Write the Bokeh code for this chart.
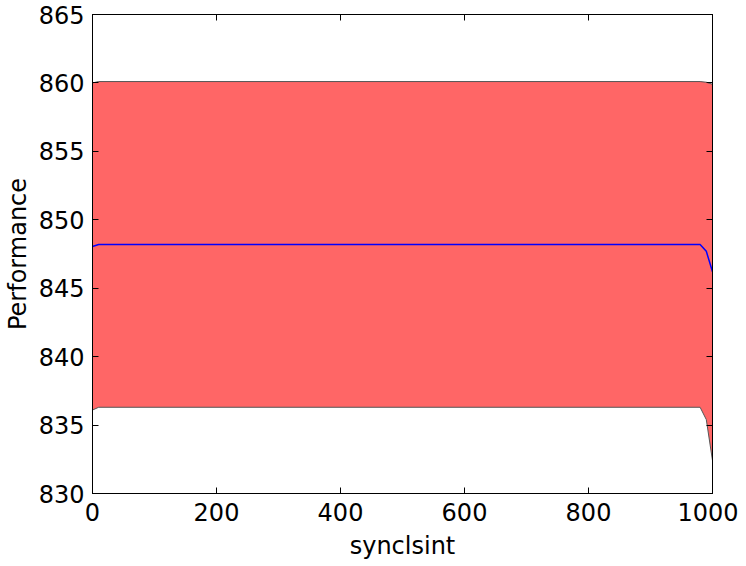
from bokeh.plotting import figure
from bokeh.models import LinearAxis, FixedTicker, Range1d, CustomJSTickFormatter
from bokeh.embed import file_html
from bokeh.resources import INLINE

# data
synclsint = [0, 10, 980, 990, 1000]
perf_upper = [860.0, 860.1, 860.1, 860.05, 859.9]
perf_mean = [848.05, 848.2, 848.2, 847.7, 846.2]
perf_lower = [836.1, 836.3, 836.3, 835.4, 832.4]
x_ticks = [0, 200, 400, 600, 800, 1000]
y_ticks = [830, 835, 840, 845, 850, 855, 860, 865]

FONT = "DejaVu Sans"
FS = "24px"

p = figure(frame_width=620, frame_height=479, output_backend="svg",
           toolbar_location=None, x_range=Range1d(0, 1000), y_range=Range1d(830, 865),
           min_border_left=0, min_border_top=14, min_border_right=26, min_border_bottom=0)
p.background_fill_color = "white"
p.border_fill_color = "white"
p.outline_line_color = "black"
p.outline_line_width = 1
p.grid.visible = False

p.varea(x=synclsint, y1=perf_lower, y2=perf_upper, fill_color="#FF6666", fill_alpha=1.0)
p.line(synclsint, perf_upper, line_color="#555555", line_width=1)
p.line(synclsint, perf_lower, line_color="#555555", line_width=1)
p.line(synclsint, perf_mean, line_color="#0000FF", line_width=1.5)

for ax in (p.xaxis[0], p.yaxis[0]):
    ax.major_tick_in = 6
    ax.major_tick_out = 0
    ax.minor_tick_in = 0
    ax.minor_tick_out = 0
    ax.axis_line_color = "black"
    ax.major_label_text_font = FONT
    ax.major_label_text_font_size = FS
    ax.major_label_text_color = "black"
    ax.axis_label_text_font = FONT
    ax.axis_label_text_font_size = FS
    ax.axis_label_text_font_style = "normal"
    ax.axis_label_text_color = "black"

p.xaxis[0].ticker = FixedTicker(ticks=x_ticks)
p.yaxis[0].ticker = FixedTicker(ticks=y_ticks)
p.xaxis[0].axis_label = "synclsint"
p.yaxis[0].axis_label = "Performance"
p.xaxis[0].major_label_standoff = 9
p.yaxis[0].major_label_standoff = 8
p.xaxis[0].axis_label_standoff = 8
p.yaxis[0].axis_label_standoff = 4

blank = CustomJSTickFormatter(code="return ''")
top = LinearAxis(ticker=FixedTicker(ticks=x_ticks), formatter=blank,
                 major_tick_in=6, major_tick_out=0, minor_tick_in=0, minor_tick_out=0,
                 major_label_standoff=0)
right = LinearAxis(ticker=FixedTicker(ticks=y_ticks), formatter=blank,
                   major_tick_in=6, major_tick_out=0, minor_tick_in=0, minor_tick_out=0,
                   major_label_standoff=0)
p.add_layout(top, "above")
p.add_layout(right, "right")

open("out.html", "w").write(file_html(p, INLINE))
